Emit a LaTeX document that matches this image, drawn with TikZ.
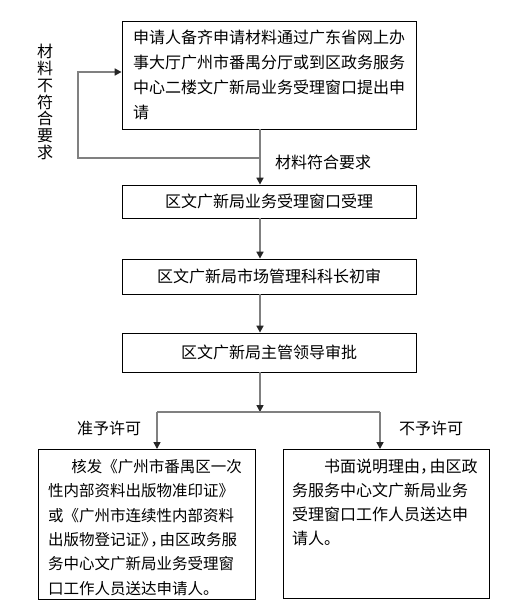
\documentclass[tikz,border=0pt]{standalone}
\usepackage{fontspec}
\setmainfont{Noto Sans CJK SC}
\usetikzlibrary{arrows.meta}

\newcommand{\tightc}{\kern-.4em}
\newcommand{\topbox}[3]{\parbox[c][#1][t]{#2}{\raggedright #3}}

\begin{document}
\begin{tikzpicture}[%
      x=1pt, y=-1pt,
      font=\fontsize{16}{20}\selectfont,
      box/.style={draw=black, line width=0.8pt, inner sep=0pt},
      flow/.style={color=gray, line width=1.6pt},
      tip/.style={-{Triangle[length=7pt,width=7pt,color=black!85]}},
      ]
      \useasboundingbox (0,0) rectangle (526,602);

      \node [box, minimum width=294pt, minimum height=108pt, text width=272pt,
             align=left, font=\fontsize{16}{25}\selectfont] (apply) at (269,75)
            {申请人备齐申请材料通过广东省网上办\\事大厅广州市番禺分厅或到区政务服务\\中心二楼文广新局业务受理窗口提出申\\请};
      \node [box, minimum width=294pt, minimum height=33pt] (accept) at (269,201.5) {区文广新局业务受理窗口受理};
      \node [box, minimum width=294pt, minimum height=35pt] (review) at (269,276.5) {区文广新局市场管理科科长初审};
      \node [box, minimum width=294pt, minimum height=39pt] (approve) at (269,352.5) {区文广新局主管领导审批};

      \node [box, anchor=north, inner xsep=10pt, inner ysep=10pt,
             font=\fontsize{15.5}{24.3}\selectfont] (grant) at (146.5,449)
            {\topbox{130pt}{197pt}{\hspace*{1.5em}核发《广州市番禺区一次\\性内部资料出版物准印证》\\或《广州市连续性内部资料\\出版物登记证》\tightc，\tightc 由区政务服\\务中心文广新局业务受理窗\\口工作人员送达申请人。}};
      \node [box, anchor=north, inner xsep=9pt, inner ysep=10pt,
             font=\fontsize{16}{24}\selectfont] (deny) at (386,449)
            {\topbox{129pt}{188pt}{\hspace*{2em}书面说明理由，\tightc 由区政\\务服务中心文广新局业务\\受理窗口工作人员送达申\\请人。}};

      \node [align=center, font=\fontsize{16}{16.7}\selectfont] (reject) at (45,102) {材\\料\\不\\符\\合\\要\\求};
      \node (okay) at (323,162) {材料符合要求};
      \node (yes) at (109,428) {准予许可};
      \node (no) at (431,428) {不予许可};

      \coordinate (trunk) at (260,0);
      \coordinate (fb) at (260,158);
      \coordinate (back) at (78,158);
      \coordinate (split) at (260,412);
      \coordinate (splitL) at (157,412);
      \coordinate (splitR) at (380,412);

      \draw [flow, tip] (apply.south -| trunk) -- (accept.north -| trunk);
      \draw [flow, tip] (fb) -- (back) |- ([yshift=3pt]apply.west);
      \draw [flow, tip] (accept.south -| trunk) -- (review.north -| trunk);
      \draw [flow, tip] (review.south -| trunk) -- (approve.north -| trunk);
      \draw [flow, tip] (approve.south -| trunk) -- (split);
      \draw [flow] (splitL) -- (splitR);
      \draw [flow, tip] (splitL) -- (grant.north -| splitL);
      \draw [flow, tip] (splitR) -- (deny.north -| splitR);
\end{tikzpicture}
\end{document}
